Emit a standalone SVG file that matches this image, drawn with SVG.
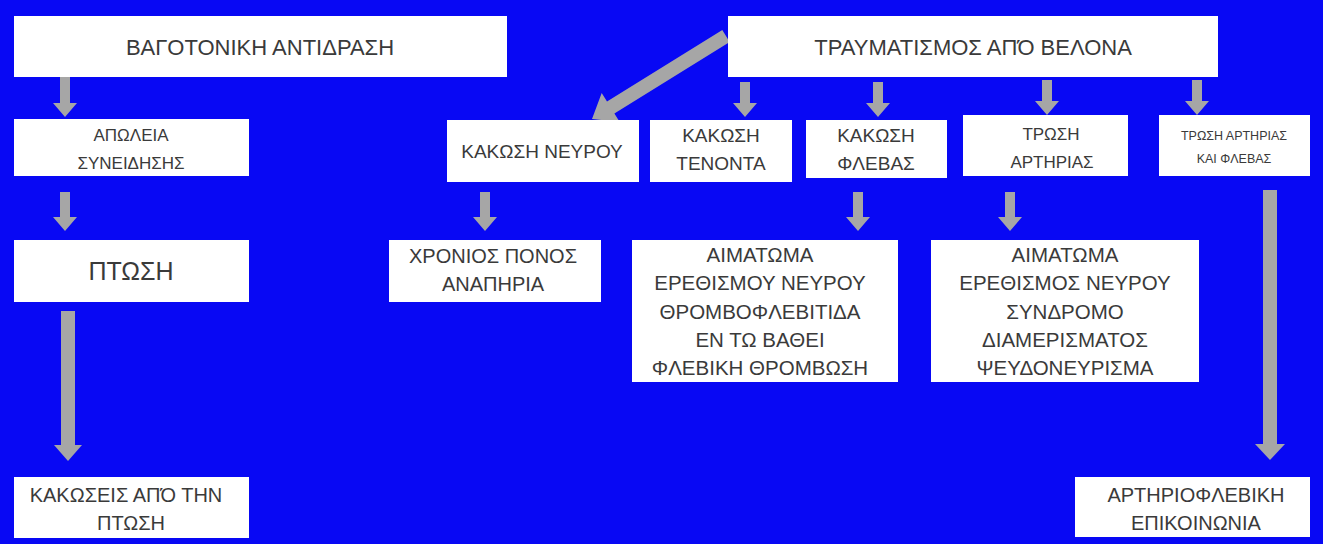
<svg xmlns="http://www.w3.org/2000/svg" width="1323" height="544" viewBox="0 0 1323 544">
<style>
.bg{fill:#0808f4}
.box{fill:#ffffff}
.t{font-family:"Liberation Sans",Arial,sans-serif;fill:#3a3a3a;text-anchor:middle;font-size:17px}
.big{font-size:22px}
.f19{font-size:19px}
.f20{font-size:20px}
.f21{font-size:20.5px}
.pt{font-size:25px}
.sm{font-size:12.5px}
.arr{fill:#a6a6a6}
</style>
<rect class="bg" x="0" y="0" width="1323" height="544"/>
<g id="connectors">
<polygon class="arr" points="60,77 70,77 70,103 77,103 65,117 53,103 60,103"/>
<polygon class="arr" points="60,192 70,192 70,217 77,217 65,231 53,217 60,217"/>
<polygon class="arr" points="61,311 75,311 75,445 82,445 68,461 54,445 61,445"/>
<polygon class="arr" points="729.7,42 722.3,30.1 607,101.4 601.7,92.9 592,119 619.7,121.9 614.4,113.4"/>
<polygon class="arr" points="740,82 750,82 750,103 757,103 745,117 733,103 740,103"/>
<polygon class="arr" points="873,82 883,82 883,103 890,103 878,117 866,103 873,103"/>
<polygon class="arr" points="1042,80 1052,80 1052,101 1059,101 1047,115 1035,101 1042,101"/>
<polygon class="arr" points="1192,80 1202,80 1202,101 1209,101 1197,115 1185,101 1192,101"/>
<polygon class="arr" points="480,192 490,192 490,217 497,217 485,231 473,217 480,217"/>
<polygon class="arr" points="853,192 863,192 863,217 870,217 858,231 846,217 853,217"/>
<polygon class="arr" points="1005,192 1015,192 1015,217 1022,217 1010,231 998,217 1005,217"/>
<polygon class="arr" points="1263,190 1277,190 1277,444 1285,444 1270,460 1255,444 1263,444"/>
</g>
<g id="n-vagotoniki">
<rect class="box" x="14" y="16" width="493" height="61"/>
<text class="t big" x="260" y="55">ΒΑΓΟΤΟΝΙΚΗ ΑΝΤΙΔΡΑΣΗ</text>
</g>
<g id="n-traumatismos">
<rect class="box" x="728" y="16" width="490" height="61"/>
<text class="t big" x="973" y="55">ΤΡΑΥΜΑΤΙΣΜΟΣ ΑΠΌ ΒΕΛΟΝΑ</text>
</g>
<g id="n-apoleia">
<rect class="box" x="14" y="119" width="235" height="57"/>
<text class="t" x="131" y="141">ΑΠΩΛΕΙΑ</text>
<text class="t" x="131" y="169">ΣΥΝΕΙΔΗΣΗΣ</text>
</g>
<g id="n-ptosi">
<rect class="box" x="14" y="240" width="235" height="62"/>
<text class="t pt" x="131" y="280">ΠΤΩΣΗ</text>
</g>
<g id="n-kakoseis">
<rect class="box" x="14" y="477" width="235" height="61"/>
<text class="t f20" x="126" y="502">ΚΑΚΩΣΕΙΣ ΑΠΌ ΤΗΝ</text>
<text class="t f20" x="131" y="530">ΠΤΩΣΗ</text>
</g>
<g id="n-neurou">
<rect class="box" x="447" y="120" width="192" height="62"/>
<text class="t f19" x="542" y="158">ΚΑΚΩΣΗ ΝΕΥΡΟΥ</text>
</g>
<g id="n-tenonta">
<rect class="box" x="650" y="120" width="142" height="62"/>
<text class="t f19" x="721" y="142">ΚΑΚΩΣΗ</text>
<text class="t f19" x="721" y="170">ΤΕΝΟΝΤΑ</text>
</g>
<g id="n-flevas">
<rect class="box" x="806" y="120" width="141" height="58"/>
<text class="t f19" x="876" y="142">ΚΑΚΩΣΗ</text>
<text class="t f19" x="876" y="170">ΦΛΕΒΑΣ</text>
</g>
<g id="n-arthrias">
<rect class="box" x="963" y="115" width="165" height="61"/>
<text class="t" x="1051" y="140">ΤΡΩΣΗ</text>
<text class="t" x="1052" y="168">ΑΡΤΗΡΙΑΣ</text>
</g>
<g id="n-arthrias-flevas">
<rect class="box" x="1159" y="115" width="151" height="61"/>
<text class="t sm" x="1234" y="140">ΤΡΩΣΗ ΑΡΤΗΡΙΑΣ</text>
<text class="t sm" x="1234" y="163">ΚΑΙ ΦΛΕΒΑΣ</text>
</g>
<g id="n-xronios">
<rect class="box" x="389" y="240" width="212" height="62"/>
<text class="t f20" x="493" y="263">ΧΡΟΝΙΟΣ ΠΟΝΟΣ</text>
<text class="t f20" x="493" y="291">ΑΝΑΠΗΡΙΑ</text>
</g>
<g id="n-aimatoma1">
<rect class="box" x="632" y="240" width="266" height="142"/>
<text class="t f21" x="760" y="262">ΑΙΜΑΤΩΜΑ</text>
<text class="t f21" x="760" y="290">ΕΡΕΘΙΣΜΟΥ ΝΕΥΡΟΥ</text>
<text class="t f21" x="760" y="319">ΘΡΟΜΒΟΦΛΕΒΙΤΙΔΑ</text>
<text class="t f21" x="760" y="347">ΕΝ ΤΩ ΒΑΘΕΙ</text>
<text class="t f21" x="760" y="375">ΦΛΕΒΙΚΗ ΘΡΟΜΒΩΣΗ</text>
</g>
<g id="n-aimatoma2">
<rect class="box" x="931" y="240" width="268" height="142"/>
<text class="t f21" x="1065" y="262">ΑΙΜΑΤΩΜΑ</text>
<text class="t f21" x="1065" y="290">ΕΡΕΘΙΣΜΟΣ ΝΕΥΡΟΥ</text>
<text class="t f21" x="1065" y="319">ΣΥΝΔΡΟΜΟ</text>
<text class="t f21" x="1065" y="347">ΔΙΑΜΕΡΙΣΜΑΤΟΣ</text>
<text class="t f21" x="1065" y="375">ΨΕΥΔΟΝΕΥΡΙΣΜΑ</text>
</g>
<g id="n-arthriofleviki">
<rect class="box" x="1075" y="477" width="235" height="60"/>
<text class="t f20" x="1196" y="502">ΑΡΤΗΡΙΟΦΛΕΒΙΚΗ</text>
<text class="t f20" x="1196" y="530">ΕΠΙΚΟΙΝΩΝΙΑ</text>
</g>
</svg>
